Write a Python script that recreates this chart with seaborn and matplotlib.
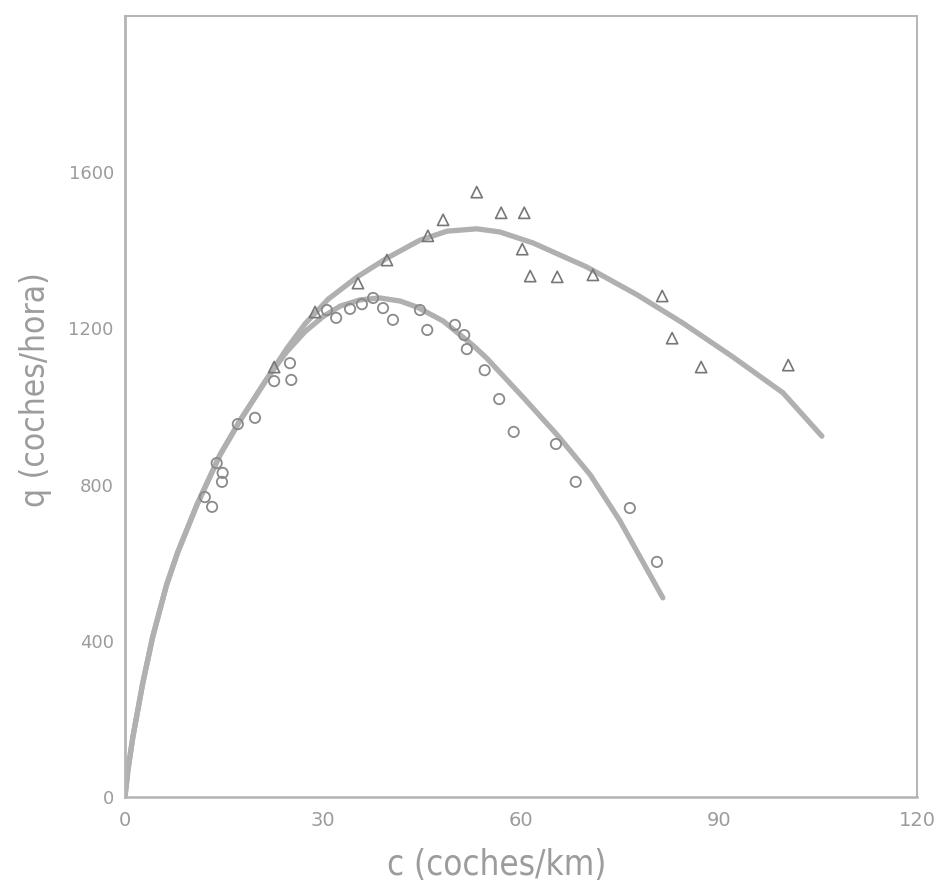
import matplotlib
matplotlib.use("Agg")
import matplotlib.pyplot as plt
import seaborn as sns
import pandas as pd

# ---- data ----
circ_c = [12.1, 13.2, 13.9, 14.8, 14.7, 17.1, 19.7, 22.6, 25.0, 25.2, 30.6, 32.0, 34.1, 35.9,
          37.6, 39.1, 40.6, 44.7, 45.8, 50.0, 51.4, 51.8, 54.5, 56.7, 58.9, 65.3, 68.3, 76.5, 80.6]
circ_q = [768, 743, 855, 830, 807, 955, 971, 1065, 1111, 1068, 1247, 1227, 1250, 1262,
          1278, 1252, 1222, 1247, 1196, 1209, 1183, 1147, 1093, 1019, 935, 904, 807, 740, 602]

tri_c = [22.6, 28.8, 35.3, 39.7, 45.9, 48.2, 53.3, 57.0, 60.5, 60.2, 61.4, 65.5, 70.9,
         81.4, 82.9, 87.3, 100.5]
tri_q = [1101, 1242, 1316, 1375, 1437, 1478, 1549, 1496, 1496, 1403, 1334, 1332, 1337,
         1283, 1175, 1101, 1106]

low_c = [0, 0.45, 1.2, 2.7, 4.2, 6.3, 8.0, 10.9, 14.4, 17.4, 21.7, 24.5, 27.3, 30.0, 32.6,
         35.6, 38.6, 41.7, 44.2, 48.2, 52.7, 54.8, 60.3, 65.5, 70.5, 75.0, 81.5]
low_q = [0, 69, 154, 292, 410, 543, 627, 748, 876, 963, 1076, 1140, 1192, 1230, 1257,
         1273, 1278, 1270, 1255, 1219, 1157, 1124, 1024, 927, 825, 707, 510]

up_c = [0, 0.45, 1.2, 2.7, 4.2, 6.3, 8.0, 10.9, 14.4, 17.4, 21.7, 24.5, 27.3, 30.8, 35.2,
        39.7, 44.7, 48.8, 53.3, 56.8, 61.8, 65.9, 70.0, 77.6, 84.5, 92.1, 99.7, 105.6]
up_q = [0, 69, 154, 292, 410, 543, 627, 748, 876, 963, 1076, 1148, 1212, 1275, 1332,
        1380, 1426, 1449, 1455, 1447, 1419, 1388, 1357, 1286, 1214, 1127, 1035, 924]

x_ticks = [0, 30, 60, 90, 120]
y_ticks = [0, 400, 800, 1200, 1600]

sns.set_style("white")
plt.rcParams['font.family'] = ['DejaVu Sans']

LINE = "#b0b0b0"
TXT = "#9c9c9c"

fig = plt.figure(figsize=(9.46, 8.94), dpi=100)
ax = fig.add_axes([0.1321, 0.1085, 0.8372, 0.8736])

df_low = pd.DataFrame({"c": low_c, "q": low_q})
df_up = pd.DataFrame({"c": up_c, "q": up_q})
for d in (df_low, df_up):
    sns.lineplot(data=d, x="c", y="q", sort=False, estimator=None, ax=ax,
                 color=LINE, linewidth=3.8, solid_capstyle="round",
                 solid_joinstyle="round")

df_circ = pd.DataFrame({"c": circ_c, "q": circ_q})
df_tri = pd.DataFrame({"c": tri_c, "q": tri_q})
sns.scatterplot(data=df_circ, x="c", y="q", ax=ax, marker="o", s=55,
                facecolor="none", edgecolor="#8a8a8a", linewidth=1.3, zorder=3)
sns.scatterplot(data=df_tri, x="c", y="q", ax=ax, marker="^", s=65,
                facecolor="none", edgecolor="#777777", linewidth=1.2, zorder=3)

ax.set_xlim(0, 120)
ax.set_ylim(0, 2000)
ax.set_xticks(x_ticks)
ax.set_yticks(y_ticks)
ax.set_xticklabels([str(v) for v in x_ticks], fontsize=14, color=TXT)
ax.set_yticklabels([str(v) for v in y_ticks], fontsize=13, color=TXT)
ax.tick_params(axis="both", direction="in", length=10, width=1.2, color="#a8a8a8")
ax.tick_params(axis="x", pad=10)
ax.tick_params(axis="y", pad=8)
for s in ax.spines.values():
    s.set_visible(True)
    s.set_color("#b4b4b4")
    s.set_linewidth(1.4)
ax.spines["left"].set_linewidth(2.0)
ax.spines["bottom"].set_linewidth(1.8)

ax.set_xlabel("")
ax.set_ylabel("")
fig.text(0.525, 0.032, "c (coches/km)", fontsize=25, color=TXT, ha="center",
         va="center", fontstretch="condensed")
fig.text(0.038, 0.564, "q (coches/hora)", fontsize=24, color=TXT, ha="center",
         va="center", rotation=90, fontstretch="condensed")

fig.savefig("out.png", dpi=100)
